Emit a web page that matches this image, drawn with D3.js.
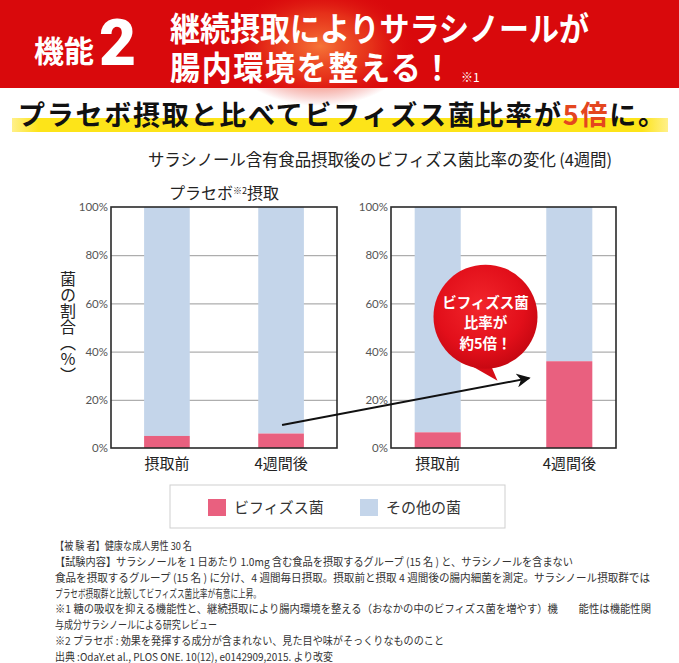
<!DOCTYPE html>
<html lang="ja">
<head>
  <meta charset="UTF-8">
  <title>サラシノール - ビフィズス菌比率</title>
  <script src="https://d3js.org/d3.v7.min.js"></script>
  <style>
    body { margin: 0; background: #fff; }
    svg { display: block; font-family: "Noto Sans CJK JP", "Noto Sans", sans-serif; }
  </style>
</head>
<body>
  <svg id="chart" width="679" height="663"></svg>

  <script>
    // chart values
    const categories = ["摂取前", "4週間後"];
    const placeboBifido = [5, 6];       // % ビフィズス菌 (プラセボ)
    const salacinolBifido = [6.5, 36];  // % ビフィズス菌 (サラシノール)
    const yTicks = [0, 20, 40, 60, 80, 100];
    const seriesNames = ["ビフィズス菌", "その他の菌"];
    const seriesColors = ["#e9607f", "#c4d5ea"];

    const footnotes = [
      "【被 験 者】健康な成人男性 30 名",
      "【試験内容】サラシノールを 1 日あたり 1.0mg 含む食品を摂取するグループ (15 名 ) と、サラシノールを含まない",
      "食品を摂取するグループ (15 名 ) に分け、4 週間毎日摂取。摂取前と摂取 4 週間後の腸内細菌を測定。サラシノール摂取群では",
      "プラセボ摂取群と比較してビフィズス菌比率が有意に上昇。",
      "※1 糖の吸収を抑える機能性と、継続摂取により腸内環境を整える（おなかの中のビフィズス菌を増やす）機　　能性は機能性関",
      "与成分サラシノールによる研究レビュー",
      "※2 プラセボ : 効果を発揮する成分が含まれない、見た目や味がそっくりなもののこと",
      "出典 :OdaY.et al., PLOS ONE. 10(12), e0142909,2015. より改変"
    ];
    const footnoteWidths = [137, 518, 595, 206, 596, 162, 389, 278];

    const svg = d3.select("#chart");
    const defs = svg.append("defs");

    // ---- header banner ----
    svg.append("rect").attr("width", 679).attr("height", 88).attr("fill", "#d9090c");
    const glow = defs.append("radialGradient").attr("id", "bannerGlow")
      .attr("cx", "0.5").attr("cy", "0.5").attr("r", "0.5");
    glow.append("stop").attr("offset", "0%").attr("stop-color", "#f77a3a").attr("stop-opacity", 0.95);
    glow.append("stop").attr("offset", "55%").attr("stop-color", "#ee4a22").attr("stop-opacity", 0.6);
    glow.append("stop").attr("offset", "100%").attr("stop-color", "#e01010").attr("stop-opacity", 0);
    svg.append("ellipse").attr("cx", 320).attr("cy", 46).attr("rx", 95).attr("ry", 60)
      .attr("fill", "url(#bannerGlow)");

    const head = svg.append("g").attr("fill", "#fff").attr("font-weight", 700);
    head.append("text").attr("x", 34).attr("y", 62).attr("font-size", 30).text("機能");
    head.append("text").attr("x", 99).attr("y", 65).attr("font-size", 64)
      .attr("font-family", "Roboto, sans-serif").attr("font-weight", 900).text("2");

    // two-line heading, slightly condensed like the original lettering
    const hs = 0.91;
    const ht = head.append("text")
      .attr("transform", `translate(170,41) scale(${hs},1)`)
      .attr("font-size", 33);
    ht.append("tspan").attr("x", 0).attr("y", 0).text("継続摂取によりサラシノールが");
    ht.append("tspan").attr("x", 0).attr("y", 39).attr("letter-spacing", 1.8).text("腸内環境を整える！");
    head.append("text").attr("x", 461).attr("y", 82).attr("font-size", 12)
      .attr("font-weight", 400).text("※1");

    // ---- subtitle with highlight ----
    const hl = defs.append("linearGradient").attr("id", "hl");
    hl.append("stop").attr("offset", "0%").attr("stop-color", "#fff08a");
    hl.append("stop").attr("offset", "4%").attr("stop-color", "#fde419");
    hl.append("stop").attr("offset", "96%").attr("stop-color", "#fde419");
    hl.append("stop").attr("offset", "100%").attr("stop-color", "#fff08a");
    svg.append("rect").attr("x", 12).attr("y", 118).attr("width", 656).attr("height", 14)
      .attr("fill", "url(#hl)");

    const sub = svg.append("text").attr("x", 18).attr("y", 125).attr("font-size", 27)
      .attr("font-weight", 700).attr("fill", "#111")
      .attr("textLength", 647).attr("lengthAdjust", "spacing");
    sub.append("tspan").text("プラセボ摂取と比べてビフィズス菌比率が");
    sub.append("tspan").attr("fill", "#e4461f").text("5倍");
    sub.append("tspan").text("に。");

    svg.append("text").attr("x", 148).attr("y", 166).attr("font-size", 16.5).attr("fill", "#222")
      .attr("textLength", 464).attr("lengthAdjust", "spacing")
      .text("サラシノール含有食品摂取後のビフィズス菌比率の変化 (4週間)");

    // ---- panels ----
    const y = d3.scaleLinear().domain([0, 100]).range([448, 207]);

    const panels = [
      { x0: 111, x1: 337, values: placeboBifido, padIn: 0.6, padOut: 0.29, title: true },
      { x0: 391, x1: 616, values: salacinolBifido, padIn: 0.65, padOut: 0.18, title: false }
    ];

    panels.forEach(p => {
      p.x = d3.scaleBand().domain(categories).range([p.x0, p.x1])
        .paddingInner(p.padIn).paddingOuter(p.padOut);
      const g = svg.append("g");

      // grid lines
      g.append("g")
        .attr("transform", `translate(${p.x0},0)`)
        .call(d3.axisLeft(y).tickValues(yTicks.slice(1, -1)).tickSize(-(p.x1 - p.x0)).tickFormat(""))
        .call(a => a.select(".domain").remove())
        .call(a => a.selectAll("line").attr("stroke", "#9a9a9a").attr("stroke-width", 1));

      // tick labels
      g.append("g")
        .attr("transform", `translate(${p.x0 - 3},0)`)
        .call(d3.axisLeft(y).tickValues(yTicks).tickSize(0).tickPadding(0).tickFormat(d => d + "%"))
        .call(a => a.select(".domain").remove())
        .call(a => a.selectAll("text").attr("font-size", 11.5).attr("fill", "#555")
          .attr("font-family", "Lato, 'Noto Sans', sans-serif"));

      // stacked bars
      const rows = categories.map((c, i) => ({ cat: c, bif: p.values[i] }));
      g.selectAll(".other").data(rows).join("rect")
        .attr("x", d => p.x(d.cat)).attr("width", p.x.bandwidth())
        .attr("y", y(100)).attr("height", d => y(d.bif) - y(100))
        .attr("fill", seriesColors[1]);
      g.selectAll(".bif").data(rows).join("rect")
        .attr("x", d => p.x(d.cat)).attr("width", p.x.bandwidth())
        .attr("y", d => y(d.bif)).attr("height", d => y(0) - y(d.bif))
        .attr("fill", seriesColors[0]);

      // frame
      g.append("rect").attr("x", p.x0).attr("y", y(100))
        .attr("width", p.x1 - p.x0).attr("height", y(0) - y(100))
        .attr("fill", "none").attr("stroke", "#2a2a2a").attr("stroke-width", 1.6);

      // category labels
      g.selectAll(".cat").data(categories).join("text")
        .attr("x", d => p.x(d) + p.x.bandwidth() / 2).attr("y", 469)
        .attr("text-anchor", "middle").attr("font-size", 15).attr("fill", "#222")
        .text(d => d);

      if (p.title) {
        const t = g.append("text").attr("x", (p.x0 + p.x1) / 2).attr("y", 199)
          .attr("text-anchor", "middle").attr("font-size", 16).attr("fill", "#222");
        t.append("tspan").text("プラセボ");
        t.append("tspan").attr("font-size", 9).attr("dy", -5).text("※2");
        t.append("tspan").attr("dy", 5).text("摂取");
      }
    });

    // y axis title
    svg.append("text")
      .attr("x", 68).attr("y", 327)
      .attr("text-anchor", "middle")
      .style("writing-mode", "vertical-rl")
      .attr("font-size", 16).attr("fill", "#222")
      .text("菌の割合（％）");

    // ---- arrow from placebo to salacinol ----
    const [pL, pR] = panels;
    defs.append("marker").attr("id", "arrowHead")
      .attr("viewBox", "0 0 10 10").attr("refX", 9).attr("refY", 5)
      .attr("markerWidth", 7).attr("markerHeight", 7).attr("markerUnits", "strokeWidth")
      .attr("orient", "auto")
      .append("path").attr("d", "M0,0 L10,5 L0,10 L3,5 Z").attr("fill", "#111");
    svg.append("line")
      .attr("x1", pL.x(categories[1]) + pL.x.bandwidth() / 2 + 1).attr("y1", y(9.5))
      .attr("x2", pR.x(categories[1]) - 17).attr("y2", y(29))
      .attr("stroke", "#111").attr("stroke-width", 2)
      .attr("marker-end", "url(#arrowHead)");

    // ---- speech bubble ----
    const bub = defs.append("radialGradient").attr("id", "bubble")
      .attr("cx", "0.45").attr("cy", "0.4").attr("r", "0.6");
    bub.append("stop").attr("offset", "0%").attr("stop-color", "#f2262c");
    bub.append("stop").attr("offset", "70%").attr("stop-color", "#e20f1a");
    bub.append("stop").attr("offset", "100%").attr("stop-color", "#c80812");

    const bx = (pR.x(categories[0]) + pR.x(categories[1]) + pR.x.bandwidth()) / 2 - 18;
    const by = y(54.5);
    const r = 52;
    const bubbleG = svg.append("g");
    bubbleG.append("path")
      .attr("d", `M${bx - 16},${by + r - 4} L${bx + 12},${by + 64} L${bx + 6},${by + r - 2} Z`)
      .attr("fill", "#d60c16");
    bubbleG.append("circle").attr("cx", bx).attr("cy", by).attr("r", r)
      .attr("fill", "url(#bubble)");
    const bt = bubbleG.append("text").attr("text-anchor", "middle").attr("fill", "#fff")
      .attr("font-weight", 700).attr("font-size", 14.5);
    ["ビフィズス菌", "比率が", "約5倍！"].forEach((s, i) => {
      bt.append("tspan").attr("x", bx).attr("y", by - 9 + i * 20.5).text(s);
    });

    // ---- legend ----
    const lg = svg.append("g");
    lg.append("rect").attr("x", 170).attr("y", 485).attr("width", 335).attr("height", 43)
      .attr("fill", "#fff").attr("stroke", "#cfcfcf");
    const legendX = [208, 360];
    seriesNames.forEach((n, i) => {
      lg.append("rect").attr("x", legendX[i]).attr("y", 499).attr("width", 18).attr("height", 17)
        .attr("fill", seriesColors[i]);
      lg.append("text").attr("x", legendX[i] + 26).attr("y", 513).attr("font-size", 15)
        .attr("fill", "#333").text(n);
    });

    // ---- footnotes (condensed) ----
    const sxNote = 0.88;
    svg.append("g")
      .attr("transform", `translate(55,0) scale(${sxNote},1)`)
      .selectAll("text").data(footnotes).join("text")
      .attr("x", 0).attr("y", (d, i) => 550 + i * 15.85)
      .attr("font-size", 11).attr("fill", "#333")
      .attr("textLength", (d, i) => footnoteWidths[i] / sxNote)
      .attr("lengthAdjust", "spacingAndGlyphs")
      .text(d => d);
  </script>
</body>
</html>
